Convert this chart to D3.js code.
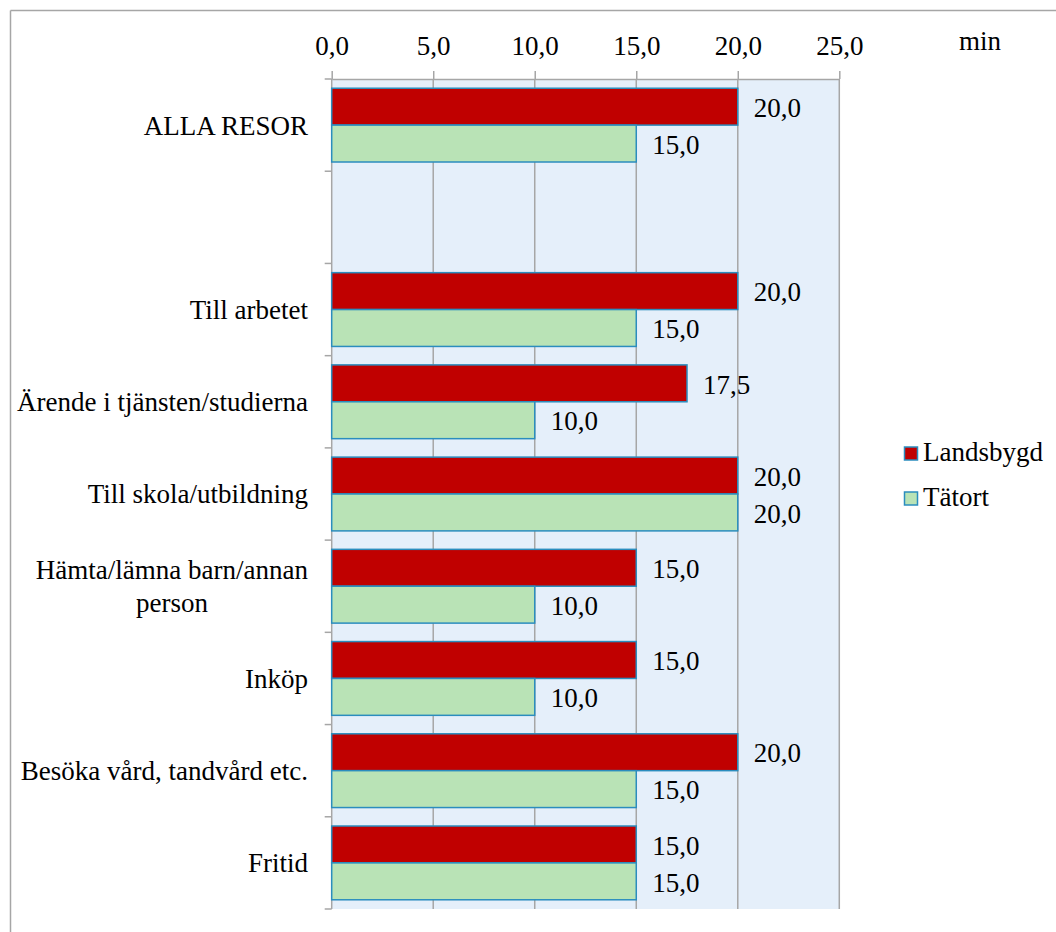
<!DOCTYPE html>
<html>
<head>
<meta charset="utf-8">
<script src="https://cdn.jsdelivr.net/npm/d3@7"></script>
<style>
  html, body { margin: 0; padding: 0; background: #fff; }
  svg { display: block; }
  svg text { font-family: "Liberation Serif", "Times New Roman", Times, "Tinos", "DejaVu Serif", serif !important; fill: #000; }
</style>
</head>
<body>
<script>
// ---- data ----
const categories = ["ALLA RESOR", "", "Till arbetet", "Ärende i tjänsten/studierna", "Till skola/utbildning", "Hämta/lämna barn/annan\nperson", "Inköp", "Besöka vård, tandvård etc.", "Fritid"];
const seriesNames = ["Landsbygd", "Tätort"];
const landsbygd = [20.0, null, 20.0, 17.5, 20.0, 15.0, 15.0, 20.0, 15.0];
const tatort = [15.0, null, 15.0, 10.0, 20.0, 10.0, 10.0, 15.0, 15.0];
const xTicks = [0, 5, 10, 15, 20, 25];
const unitLabel = "min";

const W = 1056, H = 932;
const colors = { "Landsbygd": "#C00000", "Tätort": "#B9E3B6" };
const barStroke = "#2B8DBE";
const gridColor = "#A6A6A6";
const fontSize = 27;
const FONT = '"Liberation Serif", "Times New Roman", Times, Tinos, "DejaVu Serif", serif';

const svg = d3.select("body").append("svg").attr("width", W).attr("height", H)
  .attr("font-family", FONT);

// outer border (top and left visible)
svg.append("line").attr("x1", 10.5).attr("x2", W).attr("y1", 10.5).attr("y2", 10.5).attr("stroke", "#A6A6A6").attr("stroke-width", 1.5);
svg.append("line").attr("x1", 10.5).attr("x2", 10.5).attr("y1", 10.5).attr("y2", H).attr("stroke", "#A6A6A6").attr("stroke-width", 1.5);

const plot = { left: 331.7, right: 839.3, top: 79, bottom: 909 };

const x = d3.scaleLinear().domain([0, 25]).range([plot.left, plot.right]);
const idx = categories.map((c, i) => i);
const y = d3.scaleBand().domain(idx).range([plot.top, plot.bottom]).padding(0);
const bw = y.bandwidth();
const y1 = d3.scaleBand().domain(seriesNames).range([bw * 0.1, bw * 0.9]).padding(0);

// plot background
svg.append("rect").attr("x", plot.left).attr("y", plot.top)
  .attr("width", plot.right - plot.left).attr("height", plot.bottom - plot.top)
  .attr("fill", "#E5EFFA");

// gridlines
svg.append("g").selectAll("line").data(xTicks.filter(d => d > 0)).join("line")
  .attr("x1", d => x(d)).attr("x2", d => x(d))
  .attr("y1", plot.top).attr("y2", plot.bottom)
  .attr("stroke", gridColor).attr("stroke-width", 1.5);

// top axis
const xAxis = d3.axisTop(x).tickValues(xTicks).tickSize(8).tickSizeOuter(0).tickPadding(16)
  .tickFormat(d => d.toFixed(1).replace(".", ","));
const gx = svg.append("g").attr("transform", `translate(0,${plot.top})`).call(xAxis)
  .attr("font-family", FONT).attr("font-size", fontSize);
gx.select(".domain").attr("stroke", gridColor).attr("stroke-width", 1.5);
gx.selectAll(".tick line").attr("stroke", gridColor).attr("stroke-width", 1.5);
gx.selectAll(".tick text").attr("font-size", fontSize).style("font-family", FONT);

svg.append("text").attr("x", 959).attr("y", 50).attr("font-size", fontSize).text(unitLabel);

// left axis line + ticks at band boundaries
svg.append("line").attr("x1", plot.left).attr("x2", plot.left).attr("y1", plot.top).attr("y2", plot.bottom)
  .attr("stroke", gridColor).attr("stroke-width", 1.5);
const boundaries = idx.map(i => y(i)).concat([plot.bottom]);
svg.append("g").selectAll("line").data(boundaries).join("line")
  .attr("x1", plot.left - 7).attr("x2", plot.left).attr("y1", d => d).attr("y2", d => d)
  .attr("stroke", gridColor).attr("stroke-width", 1.5);

// category labels
const catG = svg.append("g");
categories.forEach((c, i) => {
  if (!c) return;
  const lines = c.split("\n");
  const cy = y(i) + bw / 2;
  const lh = 33;
  const t = catG.append("text").attr("font-size", fontSize);
  if (lines.length === 1) {
    t.attr("x", 308).attr("y", cy).attr("dy", "0.35em").attr("text-anchor", "end").text(c);
  } else {
    t.attr("text-anchor", "middle");
    const tmp = svg.append("text").attr("font-size", fontSize).text(lines[0]);
    const wMax = d3.max(lines, l => { tmp.text(l); return tmp.node().getComputedTextLength(); });
    tmp.remove();
    const cx = 308 - wMax / 2;
    const y0 = cy - (lines.length - 1) * lh / 2;
    lines.forEach((l, k) => {
      t.append("tspan").attr("x", cx).attr("y", y0 + k * lh).attr("dy", "0.35em").text(l);
    });
  }
});

// bars
const data = [];
idx.forEach(i => {
  if (landsbygd[i] != null) data.push({ i, s: "Landsbygd", v: landsbygd[i] });
  if (tatort[i] != null) data.push({ i, s: "Tätort", v: tatort[i] });
});
svg.append("g").selectAll("rect").data(data).join("rect")
  .attr("x", x(0))
  .attr("y", d => y(d.i) + y1(d.s))
  .attr("width", d => x(d.v) - x(0))
  .attr("height", y1.bandwidth())
  .attr("fill", d => colors[d.s])
  .attr("stroke", barStroke).attr("stroke-width", 1.5);

// value labels
svg.append("g").selectAll("text").data(data).join("text")
  .attr("x", d => x(d.v) + 16)
  .attr("y", d => y(d.i) + y1(d.s) + y1.bandwidth() / 2)
  .attr("dy", "0.38em")
  .attr("font-size", fontSize)
  .text(d => d.v.toFixed(1).replace(".", ","));

// legend
const leg = svg.append("g");
seriesNames.forEach((s, k) => {
  const ly = 447 + k * 45;
  leg.append("rect").attr("x", 904.5).attr("y", ly).attr("width", 13).attr("height", 13)
    .attr("fill", colors[s]).attr("stroke", barStroke).attr("stroke-width", 1.5);
  leg.append("text").attr("x", 923).attr("y", ly + 14).attr("font-size", fontSize).text(s);
});
</script>
</body>
</html>
